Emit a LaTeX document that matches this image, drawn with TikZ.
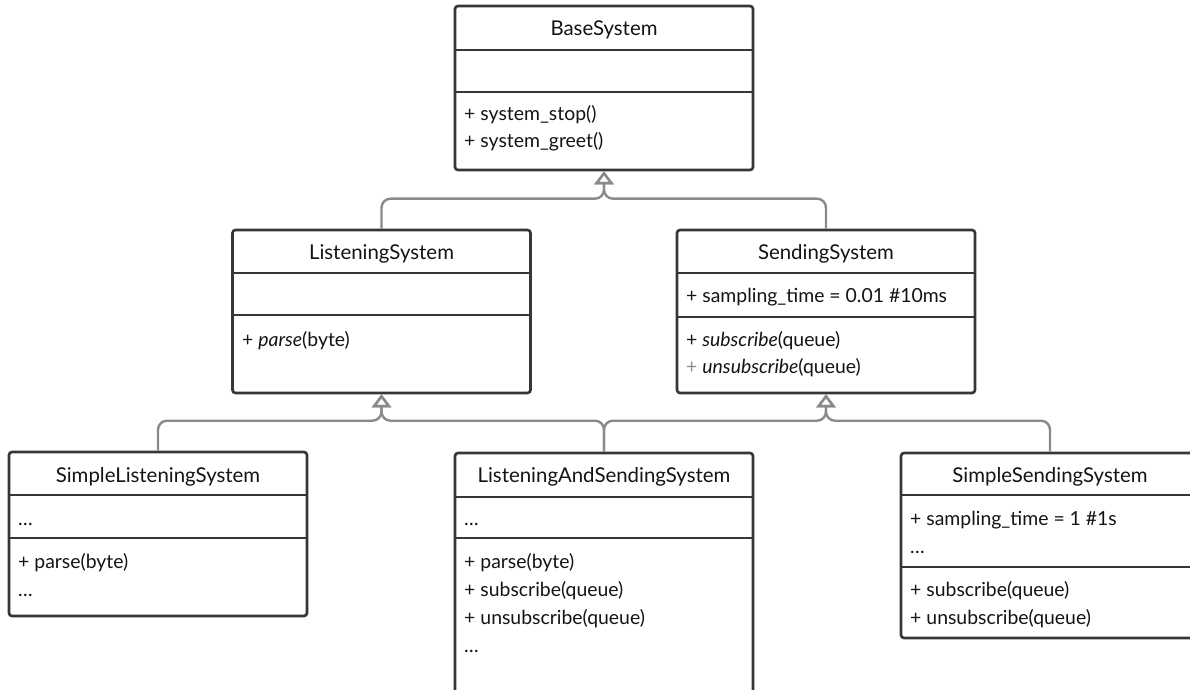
\documentclass[tikz,border=0pt]{standalone}
\usepackage{fontspec}
\setmainfont{Lato}
\usetikzlibrary{arrows.meta}

\definecolor{boxgray}{HTML}{363636}
\definecolor{linkgray}{HTML}{8A8A8A}
\definecolor{ink}{HTML}{141414}
\definecolor{plusgray}{HTML}{8C8C8C}

\tikzset{
    classbox/.style={draw=boxgray, line width=2.6pt, rounded corners=3pt, fill=white,
        minimum width=298pt, inner sep=0pt},
    classname/.style={anchor=base, font=\fontsize{20.4}{23}\selectfont, text=ink, inner sep=0pt},
    member/.style={anchor=base west, font=\fontsize{19.4}{22}\selectfont, text=ink, inner sep=0pt},
    divider/.style={draw=boxgray, line width=2.6pt},
    inherit/.style={draw=linkgray, line width=2.4pt, rounded corners=9pt,
        -{Triangle[open, length=13pt, width=19pt, line width=2.4pt]}},
}

\begin{document}
\begin{tikzpicture}[x=1pt, y=1pt]
    \fill[white] (0,0) rectangle (1190,689);
    \useasboundingbox (0,0) rectangle (1190,689);

    % BaseSystem
    \node[classbox, minimum height=164pt] (base) at (604,601) {};
    \node[classname] (baseT) at (604,653) {BaseSystem};
    \draw[divider] (455,639) -- (753,639);
    \draw[divider] (455,597) -- (753,597);
    \node[member] (baseM1) at (464,568.5) {+ system\_stop()};
    \node[member] (baseM2) at (464,541) {+ system\_greet()};

    % ListeningSystem
    \node[classbox, minimum height=163pt] (listen) at (381.5,377.5) {};
    \node[classname] (listenT) at (381.5,429) {ListeningSystem};
    \draw[divider] (232.5,416) -- (530.5,416);
    \draw[divider] (232.5,374) -- (530.5,374);
    \node[member] (listenM1) at (242,342.5) {+ \textit{parse}(byte)};

    % SendingSystem
    \node[classbox, minimum height=163pt] (send) at (826,377.5) {};
    \node[classname] (sendT) at (826,429) {SendingSystem};
    \draw[divider] (677,416) -- (975,416);
    \draw[divider] (677,372) -- (975,372);
    \node[member] (sendA1) at (686,387) {+ sampling\_time = 0.01 \#10ms};
    \node[member] (sendM1) at (686,342.5) {+ \textit{subscribe}(queue)};
    \node[member] (sendM2) at (686,315.5) {\textcolor{plusgray}{+} \textit{unsubscribe}(queue)};

    % SimpleListeningSystem
    \node[classbox, minimum height=164pt] (slisten) at (158,155) {};
    \node[classname] (slistenT) at (158,207) {SimpleListeningSystem};
    \draw[divider] (9,194) -- (307,194);
    \draw[divider] (9,151) -- (307,151);
    \node[member] (slistenA1) at (18,164) {\dots};
    \node[member] (slistenM1) at (18,121) {+ parse(byte)};
    \node[member] (slistenM2) at (18,93) {\dots};

    % ListeningAndSendingSystem
    \node[classbox, minimum height=247pt] (both) at (604,112.5) {};
    \node[classname] (bothT) at (604,207) {ListeningAndSendingSystem};
    \draw[divider] (455,192) -- (753,192);
    \draw[divider] (455,151) -- (753,151);
    \node[member] (bothA1) at (464,164) {\dots};
    \node[member] (bothM1) at (464,121) {+ parse(byte)};
    \node[member] (bothM2) at (464,92.5) {+ subscribe(queue)};
    \node[member] (bothM3) at (464,65) {+ unsubscribe(queue)};
    \node[member] (bothM4) at (464,37) {\dots};

    % SimpleSendingSystem
    \node[classbox, minimum height=185pt] (ssend) at (1050,143.5) {};
    \node[classname] (ssendT) at (1050,207) {SimpleSendingSystem};
    \draw[divider] (901,194) -- (1199,194);
    \draw[divider] (901,122) -- (1199,122);
    \node[member] (ssendA1) at (910,164) {+ sampling\_time = 1 \#1s};
    \node[member] (ssendA2) at (910,136) {\dots};
    \node[member] (ssendM1) at (910,92.5) {+ subscribe(queue)};
    \node[member] (ssendM2) at (910,64.5) {+ unsubscribe(queue)};

    % generalisation
    \draw[inherit] (listen.north) -- ++(0,30) -| (base.south);
    \draw[inherit] (send.north) -- ++(0,30) -| (base.south);
    \draw[inherit] (slisten.north) -- ++(0,30) -| (listen.south);
    \draw[inherit] (both.north) -- ++(0,31) -| (listen.south);
    \draw[inherit] (both.north) -- ++(0,31) -| (send.south);
    \draw[inherit] (ssend.north) -- ++(0,31) -| (send.south);
\end{tikzpicture}
\end{document}
